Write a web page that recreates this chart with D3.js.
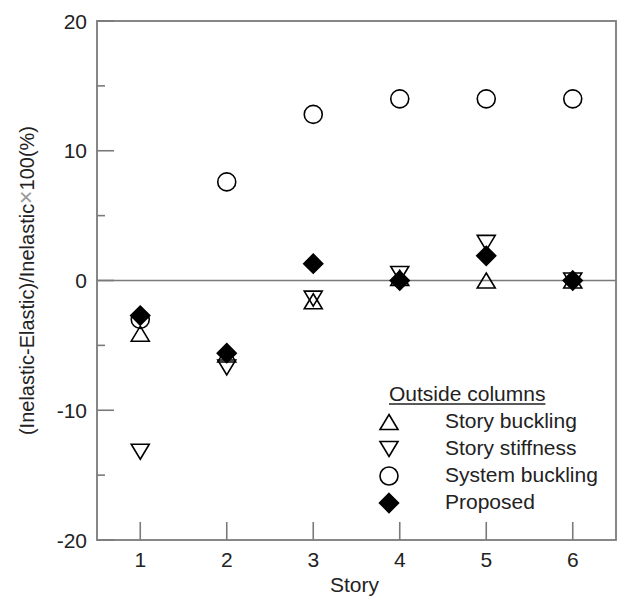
<!DOCTYPE html>
<html>
<head>
<meta charset="utf-8">
<script src="https://cdn.jsdelivr.net/npm/d3@7"></script>
<style>
  body { margin: 0; background: #fff; }
  text { font-family: "Liberation Sans", Arial, sans-serif; fill: #222; }
</style>
</head>
<body>
<div id="chart"></div>
<script>
// 625 x 597

var stories = [1, 2, 3, 4, 5, 6];
var storyBuckling   = [-4.1, -5.7, -1.6, 0.2, 0.0, 0.0];
var storyStiffness  = [-13.2, -6.7, -1.4, 0.5, 2.9, 0.0];
var systemBuckling  = [-3.0, 7.6, 12.8, 14.0, 14.0, 14.0];
var proposed        = [-2.7, -5.6, 1.3, 0.0, 1.9, 0.0];

var xTicks = [1, 2, 3, 4, 5, 6];
var yTicks = [-20, -10, 0, 10, 20];
var yMinor = [-15, -5, 5, 15];

var seriesNames = ["Story buckling", "Story stiffness", "System buckling", "Proposed"];
var seriesData  = [storyBuckling, storyStiffness, systemBuckling, proposed];

var margin = { top: 21, right: 9, bottom: 57, left: 97 },
    width  = 625 - margin.left - margin.right,
    height = 597 - margin.top - margin.bottom;

var svg = d3.select('#chart').append('svg')
    .attr('width', 625)
    .attr('height', 597);

var g = svg.append('g')
    .attr('transform', 'translate(' + margin.left + ',' + margin.top + ')');

var x = d3.scaleLinear().domain([0.5, 6.5]).range([0, width]);
var y = d3.scaleLinear().domain([-20, 20]).range([height, 0]);

var axisColor = "#7a7a7a";

// marcadores propios
var upTri = { draw: function(ctx, size) {
    var w = 9, h = 15;
    ctx.moveTo(0, -h / 2); ctx.lineTo(w, h / 2); ctx.lineTo(-w, h / 2); ctx.closePath();
}};
var downTri = { draw: function(ctx, size) {
    var w = 9, h = 15;
    ctx.moveTo(0, h / 2); ctx.lineTo(w, -h / 2); ctx.lineTo(-w, -h / 2); ctx.closePath();
}};
var circ = { draw: function(ctx, size) {
    ctx.moveTo(9, 0); ctx.arc(0, 0, 9, 0, 2 * Math.PI);
}};
var diam = { draw: function(ctx, size) {
    var r = 9.5;
    ctx.moveTo(0, -r); ctx.lineTo(r, 0); ctx.lineTo(0, r); ctx.lineTo(-r, 0); ctx.closePath();
}};
var shapes = [upTri, downTri, circ, diam];
var fills  = ["#fff", "#fff", "#fff", "#000"];

// linea cero
g.append('line')
    .attr('x1', 0).attr('x2', width)
    .attr('y1', y(0)).attr('y2', y(0))
    .style('stroke', axisColor).style('stroke-width', 1.6);

// ticks
g.selectAll('.xtick').data(xTicks).enter().append('line')
    .attr('x1', d => x(d)).attr('x2', d => x(d))
    .attr('y1', height).attr('y2', height - 18)
    .style('stroke', axisColor).style('stroke-width', 1.6);

g.selectAll('.ytick').data(yTicks).enter().append('line')
    .attr('x1', 0).attr('x2', 17)
    .attr('y1', d => y(d)).attr('y2', d => y(d))
    .style('stroke', axisColor).style('stroke-width', 1.6);

g.selectAll('.yminor').data(yMinor).enter().append('line')
    .attr('x1', 0).attr('x2', 8)
    .attr('y1', d => y(d)).attr('y2', d => y(d))
    .style('stroke', axisColor).style('stroke-width', 1.6);

// marco
g.append('rect')
    .attr('width', width).attr('height', height)
    .style('fill', 'none').style('stroke', axisColor).style('stroke-width', 1.8);

// etiquetas de ticks
g.selectAll('.xlab').data(xTicks).enter().append('text')
    .attr('x', d => x(d)).attr('y', height + 27)
    .attr('text-anchor', 'middle')
    .attr('font-size', '21px')
    .text(d => d);

g.selectAll('.ylab').data(yTicks).enter().append('text')
    .attr('x', -10).attr('y', d => y(d))
    .attr('dy', '0.36em')
    .attr('text-anchor', 'end')
    .attr('font-size', '21px')
    .text(d => d);

// titulos de ejes
g.append('text')
    .attr('x', width / 2 - 2).attr('y', height + 52)
    .attr('text-anchor', 'middle')
    .attr('font-size', '21px')
    .text("Story");

var yl = g.append('text')
    .attr('transform', 'translate(' + (-63) + ',' + (height / 2) + ') rotate(-90)')
    .attr('text-anchor', 'middle')
    .attr('font-size', '20px');
yl.append('tspan').text("(Inelastic-Elastic)/Inelastic");
yl.append('tspan').style('fill', '#999').attr('font-size', '23px').style('font-weight', 300).text("\u00d7");
yl.append('tspan').text("100(%)");

// puntos
seriesData.forEach(function(vals, i) {
    g.selectAll('.s' + i).data(vals).enter().append('path')
        .attr('class', 's' + i)
        .attr('d', d3.symbol().type(shapes[i]))
        .attr('transform', (d, j) => 'translate(' + x(stories[j]) + ',' + y(d) + ')')
        .style('fill', fills[i])
        .style('fill-opacity', i === 3 ? 1 : 0)
        .style('stroke', '#000')
        .style('stroke-width', 1.6);
});

// leyenda
var lg = g.append('g').attr('transform', 'translate(' + (389 - margin.left) + ',' + (401 - margin.top) + ')');

var title = lg.append('text')
    .attr('x', 0).attr('y', 0)
    .attr('font-size', '21px')
    .text("Outside columns");
var tw = title.node().getComputedTextLength();
lg.append('line')
    .attr('x1', 0).attr('x2', tw)
    .attr('y1', 3).attr('y2', 3)
    .style('stroke', '#222').style('stroke-width', 1.3);

var items = lg.selectAll('.item').data(seriesNames).enter().append('g')
    .attr('transform', (d, i) => 'translate(0,' + (27 * (i + 1)) + ')');

items.append('path')
    .attr('d', (d, i) => d3.symbol().type(shapes[i])())
    .attr('transform', 'translate(0,-6)')
    .style('fill', (d, i) => fills[i])
    .style('stroke', '#000')
    .style('stroke-width', 1.6);

items.append('text')
    .attr('x', 56).attr('y', 0)
    .attr('font-size', '21px')
    .text(d => d);
</script>
</body>
</html>
